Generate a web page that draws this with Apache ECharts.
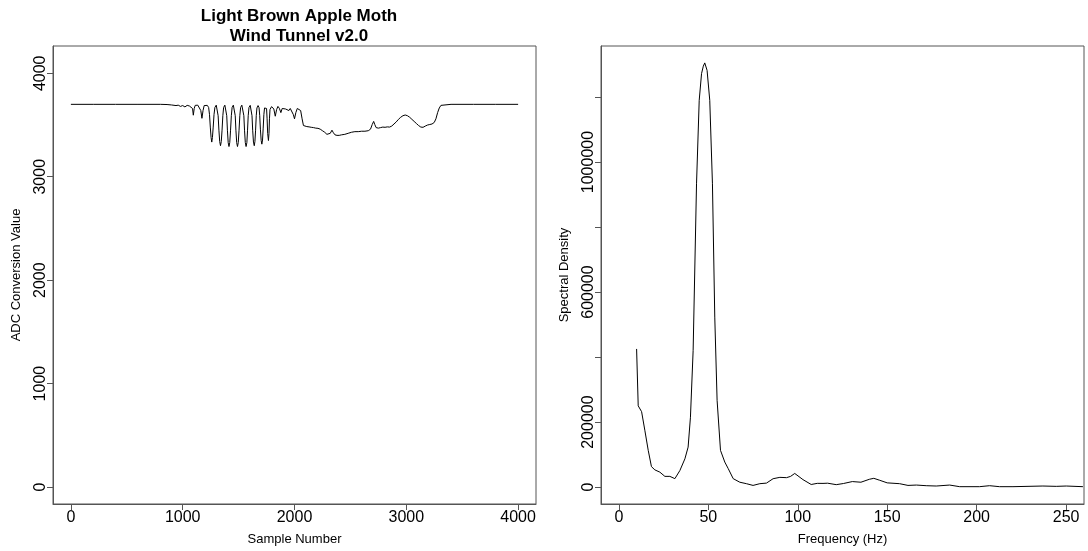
<!DOCTYPE html>
<html>
<head>
<meta charset="utf-8">
<script src="https://cdn.jsdelivr.net/npm/echarts@6/dist/echarts.min.js"></script>
<style>
  html, body { margin: 0; padding: 0; background: #fff; }
  #chart { width: 1088px; height: 551px; }
</style>
</head>
<body>
<div id="chart"></div>
<script>
// ---- Raw ADC trace (sample number vs ADC conversion value) ----
const sampleNumber = [
  0, 200, 400, 600, 800, 860, 900, 940, 960, 980, 1000, 1020, 1040, 1060, 1075,
  1088, 1095, 1103, 1112, 1135, 1150, 1162, 1172, 1182, 1192, 1205,
  1220, 1232, 1240, 1247, 1254, 1260, 1266, 1273, 1280, 1288, 1300,
  1310, 1317, 1324, 1331, 1338, 1345, 1352, 1359, 1366, 1377,
  1387, 1394, 1400, 1407, 1414, 1421, 1428, 1435, 1442, 1453,
  1463, 1470, 1476, 1483, 1490, 1497, 1504, 1511, 1518, 1529,
  1540, 1547, 1553, 1560, 1567, 1574, 1580, 1586, 1593, 1604,
  1614, 1620, 1626, 1633, 1640, 1646, 1652, 1658, 1664, 1674,
  1683, 1689, 1695, 1702, 1708, 1714, 1720, 1726, 1732, 1742,
  1750, 1755, 1760, 1767, 1772, 1776, 1781,
  1795, 1815, 1828, 1840, 1852, 1865, 1878, 1890, 1905, 1920, 1935, 1950, 1962,
  1975, 1990, 2000, 2012, 2025, 2040, 2055, 2068, 2080, 2095, 2110, 2130, 2150,
  2170, 2190, 2210, 2230, 2250, 2270, 2290, 2305, 2320, 2335, 2348, 2362, 2380,
  2400, 2420, 2450, 2480, 2510, 2540, 2570, 2600, 2630, 2660, 2680, 2695, 2708,
  2718, 2730, 2750, 2770, 2790, 2810, 2830, 2850, 2870, 2890, 2910, 2930, 2950,
  2970, 2990, 3010, 3030, 3050, 3070, 3090, 3110, 3130, 3150, 3170, 3190, 3210,
  3230, 3250, 3265, 3280, 3295, 3310, 3325, 3400, 3600, 3800, 4000
];
const adcValue = [
  3700, 3700, 3700, 3700, 3700, 3698, 3694, 3688, 3692, 3680, 3688, 3675, 3690, 3684, 3690,
  3660, 3595, 3660, 3690, 3692, 3685, 3640, 3565, 3640, 3688, 3692,
  3690, 3670, 3600, 3480, 3380, 3335, 3380, 3480, 3600, 3670, 3692,
  3675, 3590, 3450, 3340, 3300, 3340, 3450, 3590, 3670, 3692,
  3675, 3590, 3450, 3330, 3292, 3330, 3450, 3590, 3670, 3692,
  3675, 3590, 3450, 3330, 3292, 3330, 3450, 3590, 3670, 3692,
  3675, 3590, 3450, 3330, 3292, 3330, 3450, 3590, 3670, 3690,
  3672, 3590, 3450, 3335, 3300, 3340, 3450, 3590, 3665, 3688,
  3668, 3590, 3460, 3350, 3315, 3355, 3470, 3600, 3665, 3682,
  3660, 3560, 3420, 3350, 3420, 3560, 3650,
  3678, 3655, 3585, 3650, 3680, 3660, 3620, 3660, 3675, 3655, 3665, 3640, 3660,
  3655, 3600, 3560, 3620, 3660, 3665, 3640, 3560, 3495, 3488, 3485, 3482, 3478,
  3475, 3470, 3468, 3460, 3445, 3430, 3410, 3400, 3420, 3450, 3425, 3405, 3400,
  3400, 3405, 3410, 3420, 3430, 3436, 3436, 3440, 3440, 3445, 3460, 3505, 3535,
  3505, 3475, 3470, 3475, 3480, 3478, 3482, 3480, 3490, 3510, 3530, 3555, 3575,
  3590, 3597, 3590, 3575, 3555, 3535, 3515, 3495, 3480, 3478, 3490, 3500, 3505,
  3510, 3525, 3560, 3620, 3665, 3690, 3700, 3700, 3700, 3700, 3700
];

// ---- Spectral estimate (frequency vs spectral density) ----
const frequencyHz = [
  9.9, 10.8, 12.7, 14.5, 16.4, 18.2, 20.1, 22.9, 25.7, 28.5, 31.3, 34.1, 36.9,
  38.7, 40.0, 41.5, 43.4, 44.9, 46.2, 47.2, 48.0, 49.3, 50.8, 52.3, 53.6, 54.9,
  56.8, 59.2, 61.1, 63.9, 67.6, 71.3, 75.0, 78.8, 82.5, 86.2, 90.0, 93.7, 96.0,
  98.3, 102.9, 107.5, 110.9, 114.1, 116.7, 121.5, 125.5, 130.5, 135.3, 140.0,
  142.5, 145.8, 150.0, 156.9, 161.6, 166.3, 171.8, 177.4, 184.9, 190.5, 201.6,
  207.2, 212.8, 220.3, 237.0, 244.5, 250.1, 259.4
];
const spectralDensity = [
  425000, 250000, 232000, 175000, 113000, 63000, 53000, 46000, 33000, 33000, 26000, 51000, 87000,
  123000, 215000, 420000, 933000, 1190000, 1272000, 1295000, 1305000, 1282000, 1190000, 933000, 523000, 267000,
  113000, 77000, 57000, 26000, 15000, 10500, 5200, 10500, 12300, 25800, 30000, 29000, 33000,
  42000, 23000, 8000, 11500, 11400, 12000, 7500, 11000, 17000, 15000, 24000,
  27000, 21000, 13000, 10500, 5200, 6300, 4300, 3300, 6300, 1300, 1300,
  4300, 1300, 1300, 3300, 2300, 3300, 1300
];

// ---- Tick positions ----
const sampleTicks = [0, 1000, 2000, 3000, 4000];
const adcTicks = [0, 1000, 2000, 3000, 4000];
const freqTicks = [0, 50, 100, 150, 200, 250];
const densityTicks = [0, 200000, 400000, 600000, 800000, 1000000, 1200000];
const densityLabels = [0, 200000, 600000, 1000000];

const pairs = (xs, ys) => xs.map((x, i) => [x, ys[i]]);

const FONT = 'Liberation Sans, Arial, sans-serif';
const frameColor = '#555';

function valueAxis(opts) {
  return {
    type: 'value',
    min: opts.min,
    max: opts.max,
    gridIndex: opts.grid,
    name: opts.name,
    nameLocation: 'middle',
    nameGap: opts.nameGap,
    nameRotate: opts.nameRotate,
    nameTextStyle: { fontFamily: FONT, fontSize: 13, color: '#000' },
    axisLine: { show: true, onZero: false, lineStyle: { color: frameColor, width: 1 } },
    axisTick: { show: true, inside: false, length: 6, customValues: opts.ticks,
                lineStyle: { color: frameColor, width: 1 } },
    axisLabel: { show: true, customValues: opts.labels, rotate: opts.rotate || 0,
                 margin: opts.margin, fontFamily: FONT, fontSize: 16, color: '#000',
                 formatter: v => String(v) },
    splitLine: { show: false }
  };
}

const chart = echarts.init(document.getElementById('chart'), null, { renderer: 'canvas' });
chart.setOption({
  animation: false,
  backgroundColor: '#fff',
  title: {
    text: 'Light Brown Apple Moth\nWind Tunnel v2.0',
    left: 294, top: 1, padding: 5, textAlign: 'center',
    textStyle: { fontFamily: FONT, fontSize: 17, fontWeight: 'bold', color: '#000', lineHeight: 20 }
  },
  grid: [
    { left: 53, top: 46, width: 483, height: 458, show: true, borderColor: frameColor, borderWidth: 1, backgroundColor: 'transparent' },
    { left: 601, top: 46, width: 483, height: 458, show: true, borderColor: frameColor, borderWidth: 1, backgroundColor: 'transparent' }
  ],
  xAxis: [
    valueAxis({ grid: 0, min: -160, max: 4160, ticks: sampleTicks, labels: sampleTicks,
                name: 'Sample Number', nameGap: 29, margin: 6 }),
    valueAxis({ grid: 1, min: -10, max: 260, ticks: freqTicks, labels: freqTicks,
                name: 'Frequency (Hz)', nameGap: 29, margin: 6 })
  ],
  yAxis: [
    valueAxis({ grid: 0, min: -164, max: 4264, ticks: adcTicks, labels: adcTicks,
                name: 'ADC Conversion Value', nameGap: 30, nameRotate: 90, rotate: 90, margin: 4 }),
    valueAxis({ grid: 1, min: -52000, max: 1357000, ticks: densityTicks, labels: densityLabels,
                name: 'Spectral Density', nameGap: 30, nameRotate: 90, rotate: 90, margin: 4 })
  ],
  series: [
    { type: 'line', xAxisIndex: 0, yAxisIndex: 0, data: pairs(sampleNumber, adcValue),
      showSymbol: false, lineStyle: { color: '#000', width: 1 } },
    { type: 'line', xAxisIndex: 1, yAxisIndex: 1, data: pairs(frequencyHz, spectralDensity),
      showSymbol: false, lineStyle: { color: '#000', width: 1 } }
  ]
});
</script>
</body>
</html>
